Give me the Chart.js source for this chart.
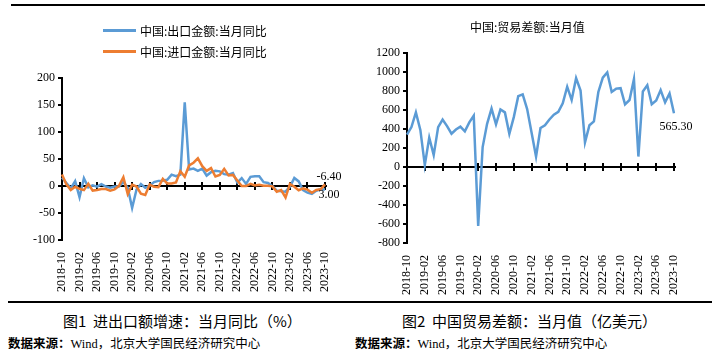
<!DOCTYPE html>
<html><head><meta charset="utf-8">
<script src="https://cdn.jsdelivr.net/npm/chart.js@4.4.0/dist/chart.umd.min.js"></script>
<style>
body{margin:0;width:712px;height:357px;background:#fff;position:relative;overflow:hidden;font-family:"Noto Sans CJK SC",sans-serif;color:#000;}
.box{position:absolute;top:0;height:300px;width:356px;}
.hr{position:absolute;background:#000;}
.leg{position:absolute;font-size:12px;line-height:14px;white-space:nowrap;}
.leg i{position:absolute;width:33px;height:0;border-top:3px solid;}
.txt{position:absolute;white-space:nowrap;}
</style></head>
<body>
<div class="hr" style="left:11px;top:4px;width:694px;height:2px;"></div>
<div class="box" style="left:0"><canvas id="c1" width="356" height="300"></canvas></div>
<div class="box" style="left:356px"><canvas id="c2" width="356" height="300"></canvas></div>
<div class="leg" style="left:140px;top:24px;"><i style="left:-37px;top:5px;border-color:#5B9BD5"></i>中国:出口金额:当月同比</div>
<div class="leg" style="left:140px;top:45px;"><i style="left:-37px;top:5px;border-color:#ED7D31"></i>中国:进口金额:当月同比</div>
<div class="txt" style="left:470px;top:18px;font-size:12px;">中国:贸易差额:当月值</div>
<div class="hr" style="left:8px;top:301px;width:704px;height:2px;"></div>
<div class="txt" style="left:63px;top:310px;font-size:15px;">图1&nbsp;&nbsp;进出口额增速：当月同比（%）</div>
<div class="txt" style="left:402px;top:310px;font-size:15px;">图2&nbsp;&nbsp;中国贸易差额：当月值（亿美元）</div>
<div class="txt" style="left:8px;top:333px;font-size:12.5px;"><b>数据来源：</b><span style="font-family:'Liberation Serif'">Wind</span>，北京大学国民经济研究中心</div>
<div class="txt" style="left:355px;top:333px;font-size:12.5px;"><b>数据来源：</b><span style="font-family:'Liberation Serif'">Wind</span>，北京大学国民经济研究中心</div>
<script>
const months = ["2018-10","2018-11","2018-12",
"2019-01","2019-02","2019-03","2019-04","2019-05","2019-06","2019-07","2019-08","2019-09","2019-10","2019-11","2019-12",
"2020-01","2020-02","2020-03","2020-04","2020-05","2020-06","2020-07","2020-08","2020-09","2020-10","2020-11","2020-12",
"2021-01","2021-02","2021-03","2021-04","2021-05","2021-06","2021-07","2021-08","2021-09","2021-10","2021-11","2021-12",
"2022-01","2022-02","2022-03","2022-04","2022-05","2022-06","2022-07","2022-08","2022-09","2022-10","2022-11","2022-12",
"2023-01","2023-02","2023-03","2023-04","2023-05","2023-06","2023-07","2023-08","2023-09","2023-10"];

const exportYoY = [15.6,5.4,-4.4,
9.1,-20.7,14.2,-2.7,1.1,-1.3,3.3,-1.0,-3.2,-0.9,-1.1,7.6,
-3.5,-40.6,-6.6,3.5,-3.3,0.5,7.2,9.5,9.9,11.4,21.1,18.1,
21.0,154.9,30.6,32.3,27.9,32.2,19.3,25.6,28.1,27.1,22.0,20.9,
24.1,6.2,14.7,3.9,16.9,17.9,18.0,7.1,5.7,-0.3,-8.7,-9.9,
-10.5,-1.3,14.8,8.5,-7.5,-12.4,-14.5,-8.8,-6.2,-6.4];

const importYoY = [21.4,3.0,-7.6,
-1.5,-5.2,-7.6,4.0,-8.5,-7.3,-5.6,-5.6,-8.5,-6.4,0.3,16.3,
-15.0,2.5,-1.0,-14.2,-16.7,2.7,-1.4,-2.1,13.2,4.7,4.5,6.5,
27.5,17.3,38.1,43.1,51.1,36.7,28.1,33.1,17.6,20.6,31.7,19.5,
20.5,10.0,-0.1,0.0,4.1,1.0,2.3,0.3,0.3,-0.7,-10.6,-7.5,
-21.3,4.0,-1.4,-7.9,-4.5,-6.8,-12.4,-7.3,-6.2,3.0];

const tradeBalance = [340,420,575,
390,20,310,125,420,500,430,350,395,425,375,470,
540,-620,210,455,615,450,605,575,350,525,745,765,
610,360,110,410,440,500,550,580,670,845,705,935,
805,260,440,480,790,940,995,790,825,830,660,705,
925,110,795,860,660,700,810,680,775,565.3];

const yTicksLeft = [-100,-50,0,50,100,150,200];
const yTicksRight = [-800,-600,-400,-200,0,200,400,600,800,1000,1200];
const labelEvery = 4;

Chart.defaults.animation = false;
Chart.defaults.font.family = '"Liberation Serif", serif';
Chart.defaults.color = '#000';

const zeroAxis = {
  id:'zeroAxis',
  beforeDatasetsDraw(chart){
    const {ctx, scales:{x,y}, chartArea} = chart;
    const y0 = y.getPixelForValue(0);
    ctx.save();
    ctx.strokeStyle = '#000';
    ctx.lineWidth = 2;
    ctx.beginPath();
    ctx.moveTo(chartArea.left, y0);
    ctx.lineTo(chartArea.right + 2, y0);
    ctx.stroke();
    for (let i = labelEvery; i < months.length; i += labelEvery) {
      const px = Math.round(x.getPixelForValue(i));
      ctx.beginPath();
      ctx.moveTo(px, y0 - 4);
      ctx.lineTo(px, y0 + 4);
      ctx.stroke();
    }
    ctx.restore();
  }
};

const endLabels = {
  id:'endLabels',
  afterDatasetsDraw(chart, args, opts){
    const {ctx, scales:{x,y}} = chart;
    ctx.save();
    ctx.font = '12px "Liberation Serif"';
    ctx.fillStyle = '#000';
    ctx.textAlign = 'center';
    ctx.textBaseline = 'middle';
    (opts.items || []).forEach(it => {
      const ds = chart.data.datasets[it.ds].data;
      const i = ds.length - 1;
      const v = ds[i];
      ctx.fillText(v.toFixed(2), x.getPixelForValue(i) + it.dx, y.getPixelForValue(v) + it.dy);
    });
    ctx.restore();
  }
};

function xScale(h){
  return {
    type:'category', offset:false,
    grid:{display:false}, border:{display:false},
    ticks:{autoSkip:false, minRotation:90, maxRotation:90, padding:4, font:{size:12}, color:'#000',
      callback:(v,i)=> i % labelEvery === 0 ? months[i] : ''},
    afterFit(s){ s.height = h; }
  };
}
function yScale(ticks, w){
  return {
    min: ticks[0], max: ticks[ticks.length-1],
    ticks:{stepSize: ticks[1]-ticks[0], font:{size:12}, color:'#000', padding:3,
      callback:(v)=> String(v)},
    grid:{display:true, drawOnChartArea:false, drawTicks:true, tickLength:4, color:'#000', lineWidth:2},
    border:{display:true, color:'#000', width:2},
    afterFit(s){ s.width = w; }
  };
}

new Chart(document.getElementById('c1'), {
  type:'line',
  data:{labels: months, datasets:[
    {label:'中国:出口金额:当月同比', data: exportYoY, borderColor:'#5B9BD5', borderWidth:2.5, pointRadius:0, tension:0, order:1},
    {label:'中国:进口金额:当月同比', data: importYoY, borderColor:'#ED7D31', borderWidth:2.5, pointRadius:0, tension:0, order:0}
  ]},
  options:{
    responsive:false,
    layout:{padding:{left:0, right:31, top:78, bottom:0}},
    plugins:{legend:{display:false}, tooltip:{enabled:false},
      endLabels:{items:[{ds:0, dx:4, dy:-13},{ds:1, dx:4, dy:10}]}},
    scales:{x: xScale(60), y: yScale(yTicksLeft, 62)}
  },
  plugins:[zeroAxis, endLabels]
});

new Chart(document.getElementById('c2'), {
  type:'line',
  data:{labels: months, datasets:[
    {label:'中国:贸易差额:当月值', data: tradeBalance, borderColor:'#5B9BD5', borderWidth:2.5, pointRadius:0, tension:0}
  ]},
  options:{
    responsive:false,
    layout:{padding:{left:0, right:38, top:53, bottom:0}},
    plugins:{legend:{display:false}, tooltip:{enabled:false},
      endLabels:{items:[{ds:0, dx:2, dy:14}]}},
    scales:{x: xScale(57), y: yScale(yTicksRight, 51)}
  },
  plugins:[zeroAxis, endLabels]
});
</script>
</body></html>
